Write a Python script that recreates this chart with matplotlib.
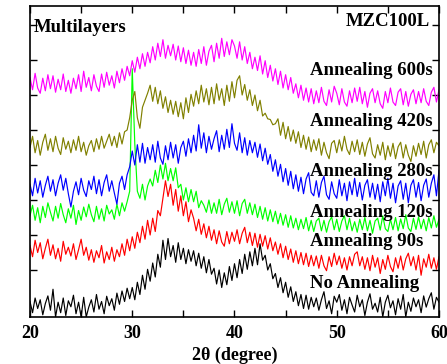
import matplotlib
matplotlib.use('Agg')
import matplotlib.pyplot as plt
import numpy as np

# 2theta grid, 0.25 deg steps
two_theta = np.arange(20.0, 60.001, 0.25)

# stacked intensities (a.u., already offset)
no_anneal = [
	-0.90, -1.22, -0.80, -1.10, -0.85, -1.28, -0.96, -0.74,
	-1.15, -0.55, -1.34, -0.92, -1.22, -0.80, -1.30, -0.88,
	-1.05, -0.72, -1.25, -0.92, -1.34, -0.78, -1.34, -1.06,
	-0.85, -1.20, -0.70, -1.12, -0.90, -1.25, -0.75, -1.02,
	-0.82, -1.15, -0.66, -0.98, -0.60, -0.90, -0.52, -0.82,
	-0.50, -0.85, -0.35, -0.70, -0.15, -0.55, 0.02, -0.32,
	0.20, -0.20, 0.45, 0.08, 0.85, 0.30, 0.90, 0.38,
	0.70, 0.22, 0.78, 0.30, 0.62, 0.18, 0.58, 0.25,
	0.55, 0.12, 0.48, 0.05, 0.38, -0.08, 0.30, -0.12,
	0.05, -0.40, 0.00, -0.50, -0.08, -0.42, 0.10, -0.30,
	0.18, -0.22, 0.30, -0.10, 0.45, 0.02, 0.52, 0.12,
	0.62, 0.15, 0.75, 0.28, 0.42, 0.00, 0.18, -0.25,
	-0.10, -0.50, -0.22, -0.65, -0.35, -0.78, -0.48, -0.90,
	-0.62, -1.02, -0.70, -1.10, -0.72, -1.12, -0.78, -1.05,
	-0.80, -1.15, -0.85, -0.62, -1.10, -0.88, -1.25, -0.75,
	-0.92, -0.70, -1.15, -0.85, -1.25, -0.78, -1.00, -1.20,
	-0.72, -1.05, -0.85, -1.30, -0.92, -0.68, -1.12, -0.95,
	-1.20, -0.78, -1.34, -0.92, -0.72, -1.08, -0.88, -1.28,
	-0.82, -1.12, -0.70, -1.34, -0.92, -1.18, -0.80, -1.05,
	-0.85, -1.22, -0.74, -1.06, -0.82, -0.65, -1.12, -0.78,
	-0.92]

anneal_90 = [
	0.70, 0.38, 0.85, 0.50, 0.78, 0.32, 0.62, 0.88,
	0.42, 0.72, 0.32, 0.62, 0.25, 0.82, 0.45, 0.65,
	0.40, 0.75, 0.30, 0.58, 0.88, 0.42, 0.65, 0.28,
	0.58, 0.22, 0.55, 0.35, 0.70, 0.20, 0.52, 0.30,
	0.65, 0.25, 0.58, 0.38, 0.75, 0.42, 0.88, 0.55,
	0.95, 0.62, 1.08, 0.78, 1.25, 0.88, 1.42, 1.00,
	1.48, 1.10, 1.70, 1.55, 2.05, 2.55, 2.10, 2.45,
	1.85, 2.30, 1.68, 2.12, 1.55, 1.95, 1.38, 1.72,
	1.48, 1.12, 1.45, 1.02, 1.32, 0.92, 1.25, 0.85,
	1.15, 0.75, 1.12, 0.80, 0.68, 1.10, 0.75, 1.08,
	0.82, 1.15, 0.75, 1.05, 1.22, 0.78, 1.08, 0.70,
	1.05, 0.65, 1.02, 0.68, 0.98, 0.60, 0.92, 0.55,
	0.80, 0.45, 0.75, 0.35, 0.68, 0.30, 0.60, 0.22,
	0.55, 0.18, 0.50, 0.15, 0.48, 0.10, 0.42, 0.12,
	0.40, 0.05, 0.42, 0.12, -0.02, 0.38, 0.10, 0.48,
	0.15, 0.40, 0.05, 0.35, 0.00, 0.38, 0.12, 0.45,
	0.52, 0.12, 0.38, 0.02, 0.35, -0.02, 0.42, 0.08,
	0.35, -0.10, 0.30, 0.02, 0.42, 0.10, -0.05, 0.35,
	0.05, 0.40, 0.00, 0.32, 0.48, 0.12, 0.38, 0.00,
	0.42, -0.15, 0.32, 0.08, 0.45, 0.05, 0.35, 0.02,
	0.38]

anneal_120 = [
	1.55, 1.85, 1.42, 1.78, 1.35, 1.82, 1.50, 1.92,
	1.65, 1.40, 1.82, 1.48, 1.90, 1.58, 1.35, 1.75,
	1.48, 1.85, 1.30, 1.70, 1.42, 1.80, 1.52, 1.88,
	1.58, 1.38, 1.82, 1.45, 1.75, 1.40, 1.85, 1.60,
	1.72, 1.45, 1.88, 1.55, 1.92, 1.68, 1.95, 2.25,
	5.75, 3.60, 2.25, 2.05, 2.45, 2.00, 2.40, 2.60,
	2.40, 2.85, 2.50, 3.00, 2.60, 3.05, 2.55, 2.90,
	2.55, 2.92, 2.35, 2.45, 2.00, 2.35, 1.95, 2.30,
	1.95, 2.25, 1.78, 1.98, 1.85, 1.65, 2.00, 1.62,
	1.92, 1.62, 2.02, 1.58, 1.88, 2.05, 1.65, 1.95,
	1.62, 1.98, 1.55, 1.90, 2.02, 1.62, 1.92, 1.58,
	1.88, 1.50, 1.82, 1.45, 1.78, 1.40, 1.72, 1.38,
	1.68, 1.32, 1.62, 1.28, 1.58, 1.22, 1.55, 1.20,
	1.48, 1.15, 1.45, 1.18, 1.50, 1.12, 1.42, 1.10,
	1.40, 1.48, 1.12, 1.42, 1.08, 1.38, 1.52, 1.15,
	1.45, 1.10, 1.40, 1.55, 1.15, 1.48, 1.12, 1.38,
	1.08, 1.45, 1.15, 1.50, 1.12, 1.42, 1.05, 1.40,
	1.48, 1.14, 1.55, 1.18, 1.10, 1.45, 1.15, 1.50,
	1.12, 1.46, 1.18, 1.58, 1.20, 1.10, 1.48, 1.16,
	1.52, 1.18, 1.45, 1.12, 1.50, 1.20, 1.55, 1.22,
	1.45]

anneal_280 = [
	2.45, 2.12, 2.62, 2.20, 2.55, 2.08, 2.42, 2.68,
	2.25, 2.58, 2.12, 2.48, 2.72, 2.28, 2.62, 2.18,
	1.80, 2.25, 2.52, 2.15, 2.62, 2.28, 2.10, 2.55,
	2.30, 2.68, 2.18, 2.58, 2.12, 2.50, 2.72, 2.25,
	2.55, 2.20, 1.88, 2.48, 2.68, 2.30, 2.72, 2.95,
	3.40, 3.00, 3.58, 3.08, 3.62, 3.05, 3.50, 3.15,
	3.58, 3.08, 3.68, 3.20, 3.02, 3.55, 3.15, 3.65,
	3.20, 3.58, 3.05, 3.50, 3.68, 3.25, 3.75, 3.35,
	3.85, 3.40, 4.15, 3.48, 3.92, 3.35, 3.82, 3.45,
	3.75, 3.98, 3.38, 3.85, 3.45, 4.02, 3.50, 4.18,
	3.62, 3.42, 3.92, 3.35, 3.78, 3.28, 3.70, 3.35,
	3.65, 3.22, 3.60, 3.12, 3.48, 3.02, 3.30, 2.82,
	3.15, 2.68, 3.02, 2.52, 2.90, 2.42, 2.82, 2.32,
	2.72, 2.25, 2.65, 2.18, 2.60, 2.78, 2.22, 2.12,
	2.55, 2.08, 2.50, 2.68, 2.15, 2.02, 2.52, 2.18,
	2.05, 2.58, 2.12, 2.48, 1.98, 2.52, 2.15, 2.62,
	2.10, 2.50, 2.00, 2.42, 2.58, 2.08, 2.48, 2.02,
	2.45, 1.95, 2.52, 2.12, 2.62, 2.05, 2.48, 1.92,
	2.40, 2.55, 2.02, 2.48, 1.92, 2.42, 2.58, 2.08,
	2.50, 1.98, 2.42, 2.60, 2.08, 2.48, 2.72, 2.12,
	2.85]

anneal_420 = [
	3.50, 3.82, 3.35, 3.70, 3.28, 3.65, 3.88, 3.42,
	3.75, 3.38, 3.82, 3.48, 3.30, 3.78, 3.45, 3.68,
	3.35, 3.72, 3.42, 3.82, 3.38, 3.65, 3.28, 3.55,
	3.70, 3.38, 3.75, 3.45, 3.82, 3.48, 3.68, 3.88,
	3.55, 3.82, 3.50, 3.92, 3.60, 3.95, 4.00, 4.35,
	4.85, 5.10, 4.35, 4.05, 4.65, 4.85, 5.05, 5.28,
	4.82, 5.22, 4.75, 5.12, 4.62, 4.95, 4.50, 4.85,
	4.45, 4.82, 4.38, 4.78, 4.32, 4.92, 4.50, 5.02,
	4.68, 5.12, 4.75, 5.28, 4.80, 5.18, 4.72, 5.22,
	4.75, 5.32, 4.85, 5.18, 4.70, 5.28, 4.82, 5.38,
	4.92, 5.42, 5.55, 5.00, 5.30, 4.85, 5.15, 4.70,
	5.00, 4.55, 4.85, 4.40, 4.48, 4.32, 4.30, 4.15,
	4.18, 4.32, 3.85, 4.22, 3.75, 4.10, 3.68, 4.00,
	3.62, 3.95, 3.50, 3.85, 3.45, 3.80, 3.38, 3.72,
	3.42, 3.75, 3.28, 3.65, 3.35, 3.18, 3.62, 3.70,
	3.35, 3.72, 3.40, 3.82, 3.45, 3.30, 3.68, 3.38,
	3.72, 3.30, 3.65, 3.25, 3.60, 3.78, 3.32, 3.20,
	3.58, 3.28, 3.65, 3.15, 3.55, 3.25, 3.62, 3.18,
	3.52, 3.65, 3.20, 3.58, 3.28, 3.10, 3.55, 3.25,
	3.62, 3.30, 3.68, 3.20, 3.58, 3.72, 3.35, 3.65,
	3.55]

anneal_600 = [
	5.50, 5.15, 5.62, 5.20, 5.05, 5.48, 5.12, 5.58,
	5.18, 5.55, 5.08, 5.45, 5.15, 5.60, 5.10, 5.42,
	5.05, 5.48, 5.18, 5.58, 5.10, 5.68, 5.22, 5.50,
	5.12, 5.58, 5.25, 5.10, 5.60, 5.22, 5.65, 5.28,
	5.55, 5.20, 5.68, 5.35, 5.75, 5.42, 5.82, 5.55,
	5.98, 5.65, 6.08, 5.75, 6.18, 5.82, 6.22, 5.92,
	6.38, 6.00, 6.48, 6.10, 6.58, 6.05, 6.42, 6.12,
	6.45, 6.00, 6.40, 5.95, 6.35, 5.90, 6.28, 5.85,
	6.22, 5.82, 6.30, 5.90, 6.38, 5.85, 6.25, 6.42,
	5.95, 6.48, 6.05, 6.62, 6.10, 6.52, 6.15, 6.58,
	6.40, 6.05, 6.52, 6.00, 6.38, 5.90, 6.22, 5.75,
	6.08, 5.70, 6.12, 5.60, 5.98, 5.50, 5.85, 5.40,
	5.75, 5.30, 5.68, 5.20, 5.58, 5.15, 5.50, 5.05,
	5.32, 4.92, 5.28, 4.85, 5.20, 4.80, 5.18, 4.75,
	5.12, 4.78, 5.22, 4.82, 4.70, 5.15, 4.80, 5.25,
	5.05, 4.72, 5.18, 4.80, 4.68, 5.12, 4.78, 5.20,
	4.82, 5.22, 4.75, 5.10, 4.65, 5.05, 5.18, 4.78,
	5.12, 4.75, 4.62, 5.10, 4.78, 5.20, 4.80, 4.70,
	5.08, 5.18, 4.72, 5.10, 4.68, 5.02, 5.15, 4.75,
	5.10, 4.78, 5.18, 4.82, 4.70, 5.08, 5.22, 4.80,
	5.15]

series = [no_anneal, anneal_90, anneal_120, anneal_280, anneal_420, anneal_600]
labels = ['No Annealing', 'Annealing 90s', 'Annealing 120s',
	'Annealing 280s', 'Annealing 420s', 'Annealing 600s']
label_y = [-0.51, 0.69, 1.51, 2.69, 4.11, 5.57]
colors = ['black', 'red', '#00ff00', 'blue', '#808000', '#ff00ff']

plt.rcParams['font.family'] = ['Liberation Serif', 'DejaVu Serif']
plt.rcParams['font.weight'] = 'bold'

# setup figure
fig = plt.figure(figsize=(4.47, 3.64), dpi=100)
ax = fig.add_axes([0.0671, 0.1291, 0.9150, 0.8544])

for ys, col in zip(series, colors):
	ax.plot(two_theta, ys, color=col, lw=0.85)

# curve labels
for lab, yl in zip(labels, label_y):
	ax.text(47.4, yl, lab, fontsize=13.5, fontweight='bold', ha='left', va='baseline')

ax.text(20.4, 6.80, 'Multilayers', fontsize=13.5, fontweight='bold', ha='left', va='baseline')
ax.text(59.1, 6.97, 'MZC100L', fontsize=13.5, fontweight='bold', ha='right', va='baseline')

ax.set_xlim(20, 60)
ax.set_ylim(-1.343, 7.543)
ax.set_xticks([20, 30, 40, 50, 60])
ax.set_xticks([25, 35, 45, 55], minor=True)
ax.set_yticks(range(0, 8))
ax.set_yticklabels([])
ax.tick_params(which='both', direction='in', top=True, right=True, length=5, width=1)
ax.tick_params(axis='x', labelsize=13, pad=6)
for lbl in ax.get_xticklabels():
	lbl.set_fontweight('bold')
ax.set_xlabel(u'2\u03b8 (degree)', fontsize=13, fontweight='bold', labelpad=3)
for sp in ax.spines.values():
	sp.set_linewidth(1.2)

fig.savefig('out.png', dpi=100)
